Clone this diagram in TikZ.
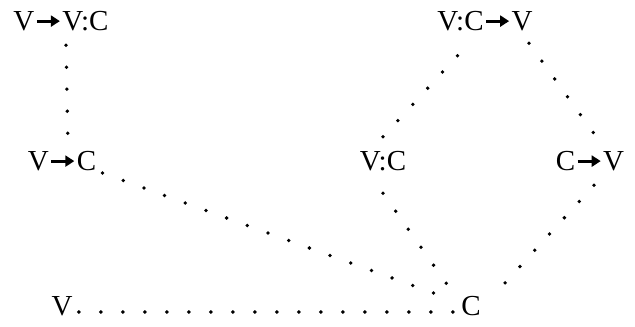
\documentclass[tikz,border=0pt]{standalone}
\usepackage{fontspec}
\setmainfont{Liberation Serif}
\usetikzlibrary{positioning,arrows.meta}
\tikzset{
  word/.style = {inner sep=3pt, font=\fontsize{14.5}{16}\selectfont},
  link/.style = {line width=1.9pt, line cap=round,
                 dash pattern=on 0pt off 11pt}
}
% short heavy arrow between the letters
\newcommand{\goes}{\hspace{0.5pt}\tikz[baseline=-0.32em]
  \draw[line width=1.5pt, -{Triangle[length=4.5pt,width=5.5pt]}]
    (0pt,0pt) -- (11.5pt,0pt);\hspace{0.5pt}}

\begin{document}
\begin{tikzpicture}[x=0.5pt, y=-0.5pt]
  \useasboundingbox (0,0) rectangle (635,326);

  %% ── Words ─────────────────────────────────────────────────────
  \node[word] (vvc)   at ( 61, 21) {V\goes V:C};
  \node[word] (vc)    at ( 62,161) {V\goes C};
  \node[word] (v)     at ( 62,306) {V};
  \node[word] (vcv)   at (485, 21) {V:C\goes V};
  \node[word] (vcolc) at (383,161) {V:C};
  \node[word] (cv)    at (590,161) {C\goes V};
  \node[word] (c)     at (471,306) {C};

  %% ── Dotted links ──────────────────────────────────────────────
  \draw[link] (vvc.south) ++(5,8) -- ([xshift=3pt]vc.north);
  \draw[link] ([yshift=-6pt]vc.east) -- ([shift={(-4pt,-4pt)}]c.north west);
  \draw[link] ([yshift=-3pt]v.east) -- ([yshift=-3pt]c.west);
  \draw[link] ([yshift=-8pt]vcolc.south) -- ([shift={(-2pt,0pt)}]c.north west);
  \draw[link] (cv.south) ++(4,8) -- ([shift={(4pt,-2pt)}]c.north east);
  \draw[link] ([yshift=4pt]vcolc.north) -- ([shift={(-8pt,-3pt)}]vcv.south);
  \draw[link] ([shift={(22pt,-3pt)}]vcv.south) -- ([xshift=6pt]cv.north);
\end{tikzpicture}
\end{document}
